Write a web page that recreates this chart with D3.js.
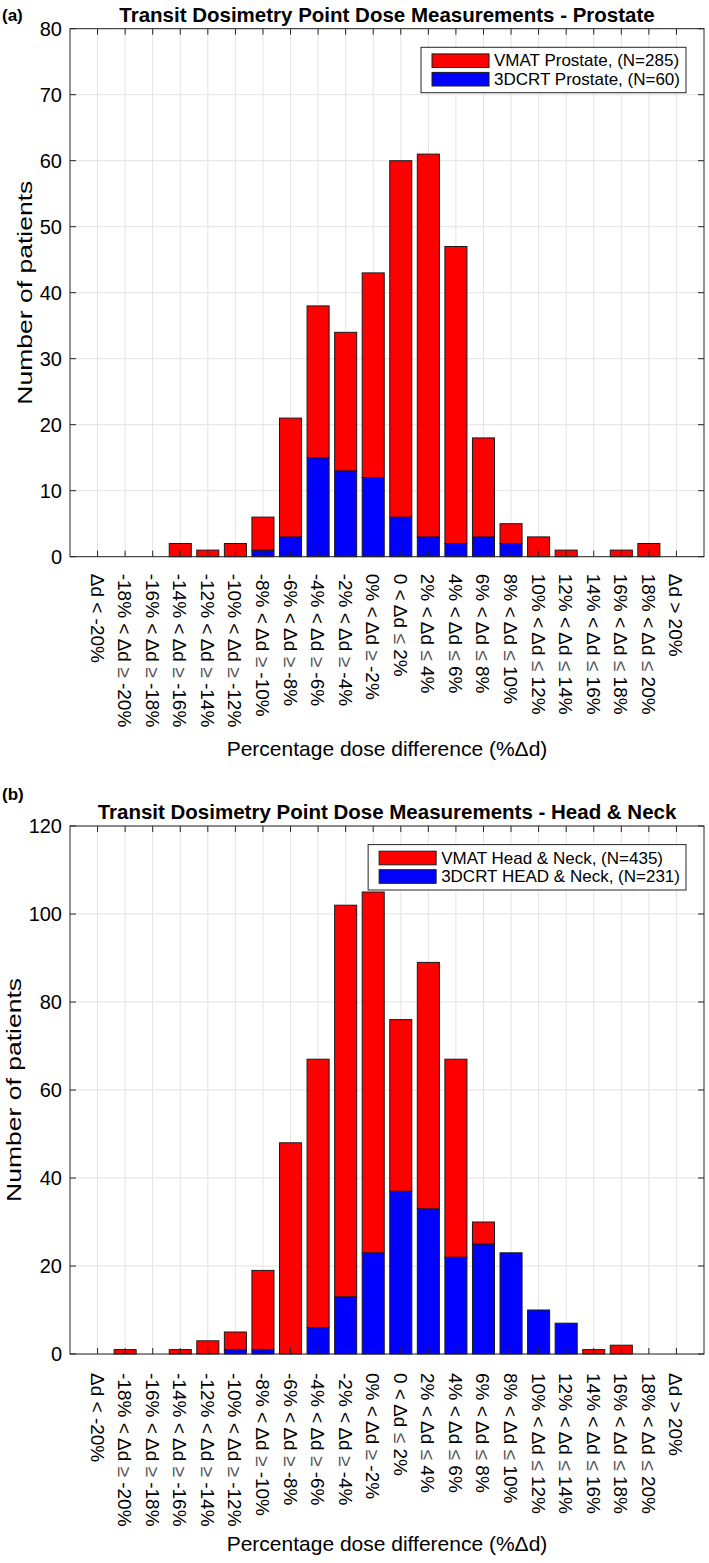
<!DOCTYPE html>
<html>
<head>
<meta charset="utf-8">
<script src="https://cdn.jsdelivr.net/npm/d3@7"></script>
<style>
  html, body { margin: 0; padding: 0; background: #fff; }
  svg { display: block; }
  text { font-family: "Liberation Sans", Arial, Helvetica, sans-serif; fill: #000; }
</style>
</head>
<body>
<svg id="chart" width="709" height="1563"></svg>
<script>
// ---------- data ----------
const categories = [
  "Δd < -20%", "-18% < Δd ≥ -20%", "-16% < Δd ≥ -18%", "-14% < Δd ≥ -16%",
  "-12% < Δd ≥ -14%", "-10% < Δd ≥ -12%", "-8% < Δd ≥ -10%", "-6% < Δd ≥ -8%",
  "-4% < Δd ≥ -6%", "-2% < Δd ≥ -4%", "0% < Δd ≥ -2%", "0 < Δd ≤ 2%",
  "2% < Δd ≤ 4%", "4% < Δd ≤ 6%", "6% < Δd ≤ 8%", "8% < Δd ≤ 10%",
  "10% < Δd ≤ 12%", "12% < Δd ≤ 14%", "14% < Δd ≤ 16%", "16% < Δd ≤ 18%",
  "18% < Δd ≤ 20%", "Δd > 20%"
];
// Prostate (stacked: 3DCRT bottom, VMAT on top)
const prostate3DCRT = [0,0,0,0,0,0,1,3,15,13,12,6,3,2,3,2,0,0,0,0,0,0];
const prostateVMAT  = [0,0,0,2,1,2,5,18,23,21,31,54,58,45,15,3,3,1,0,1,2,0];
// Head & Neck
const hn3DCRT = [0,0,0,0,0,1,1,0,6,13,23,37,33,22,25,23,10,7,0,0,0,0];
const hnVMAT  = [0,1,0,1,3,4,18,48,61,89,82,39,56,45,5,0,0,0,1,2,0,0];

const yTicksA = [0,10,20,30,40,50,60,70,80];
const yTicksB = [0,20,40,60,80,100,120];

const panels = [
  { tag: "(a)", title: "Transit Dosimetry Point Dose Measurements - Prostate",
    vmat: prostateVMAT, crt: prostate3DCRT, ymax: 80, yticks: yTicksA,
    legend: ["VMAT Prostate, (N=285)", "3DCRT Prostate, (N=60)"],
    top: 28.7, bottom: 556.7, ylabX: 25, tagY: 21, xlabOff: 199, tickOff: 17 },
  { tag: "(b)", title: "Transit Dosimetry Point Dose Measurements - Head & Neck",
    vmat: hnVMAT, crt: hn3DCRT, ymax: 120, yticks: yTicksB,
    legend: ["VMAT Head & Neck, (N=435)", "3DCRT HEAD & Neck, (N=231)"],
    top: 826, bottom: 1354, ylabX: 14, tagY: 800, xlabOff: 197, tickOff: 19 }
];

const svg = d3.select("#chart");
const left = 70, right = 704;
const RED = "#ff0000", BLUE = "#0000ff", EDGE = "#1a1a1a";

panels.forEach(p => {
  const g = svg.append("g");
  const x = d3.scaleLinear().domain([0, categories.length + 1]).range([left, right]);
  const y = d3.scaleLinear().domain([0, p.ymax]).range([p.bottom, p.top]);
  const step = x(1) - x(0);
  const bw = step * 0.8;

  // grid
  g.append("g").selectAll("line").data(categories).join("line")
    .attr("x1", (d, i) => x(i + 1)).attr("x2", (d, i) => x(i + 1))
    .attr("y1", p.top).attr("y2", p.bottom)
    .attr("stroke", "#e3e3e3").attr("stroke-width", 1);
  g.append("g").selectAll("line").data(p.yticks).join("line")
    .attr("x1", left).attr("x2", right)
    .attr("y1", d => y(d)).attr("y2", d => y(d))
    .attr("stroke", "#e3e3e3").attr("stroke-width", 1);

  // stacked bars
  const rows = categories.map((c, i) => ({ cat: c, i, crt: p.crt[i], vmat: p.vmat[i] }));
  const stack = d3.stack().keys(["crt", "vmat"])(rows);
  const colors = { crt: BLUE, vmat: RED };
  stack.forEach(layer => {
    g.append("g").selectAll("rect").data(layer.filter(d => d[1] - d[0] > 0)).join("rect")
      .attr("x", d => x(d.data.i + 1) - bw / 2)
      .attr("width", bw)
      .attr("y", d => y(d[1]))
      .attr("height", d => y(d[0]) - y(d[1]))
      .attr("fill", colors[layer.key])
      .attr("stroke", EDGE).attr("stroke-width", 1);
  });

  // frame
  g.append("rect").attr("x", left).attr("y", p.top)
    .attr("width", right - left).attr("height", p.bottom - p.top)
    .attr("fill", "none").attr("stroke", "#262626").attr("stroke-width", 1);

  // ticks (inward, all four sides)
  const tl = 6;
  const tk = g.append("g").attr("stroke", "#262626").attr("stroke-width", 1);
  categories.forEach((c, i) => {
    tk.append("line").attr("x1", x(i + 1)).attr("x2", x(i + 1)).attr("y1", p.bottom).attr("y2", p.bottom - tl);
    tk.append("line").attr("x1", x(i + 1)).attr("x2", x(i + 1)).attr("y1", p.top).attr("y2", p.top + tl);
  });
  p.yticks.forEach(v => {
    tk.append("line").attr("x1", left).attr("x2", left + tl).attr("y1", y(v)).attr("y2", y(v));
    tk.append("line").attr("x1", right).attr("x2", right - tl).attr("y1", y(v)).attr("y2", y(v));
  });

  // y tick labels
  g.append("g").selectAll("text").data(p.yticks).join("text")
    .attr("x", left - 8).attr("y", d => y(d))
    .attr("text-anchor", "end").attr("dominant-baseline", "central")
    .style("font-size", "20px").text(d => d);

  // x tick labels (rotated 90deg, reading top to bottom)
  g.append("g").selectAll("text").data(categories).join("text")
    .attr("transform", (d, i) => `translate(${x(i + 1)},${p.bottom + p.tickOff}) rotate(90)`)
    .attr("text-anchor", "start").attr("dominant-baseline", "central")
    .style("font-size", "19px")
    .each(function (d) {
      const t = d3.select(this);
      d.split(/(≥|≤)/).forEach(part => {
        const s = t.append("tspan").text(part);
        if (part === "≥" || part === "≤") s.style("fill", "#555");
      });
    });

  // axis labels
  g.append("text").attr("x", (left + right) / 2).attr("y", p.bottom + p.xlabOff)
    .attr("text-anchor", "middle").style("font-size", "21px")
    .text("Percentage dose difference (%Δd)");
  g.append("text")
    .attr("transform", `translate(${p.ylabX},${(p.top + p.bottom) / 2}) rotate(-90)`)
    .attr("text-anchor", "middle").attr("dominant-baseline", "central")
    .attr("textLength", 224).attr("lengthAdjust", "spacingAndGlyphs")
    .style("font-size", "20px").text("Number of patients");

  // title
  g.append("text").attr("x", (left + right) / 2).attr("y", p.top - 7)
    .attr("text-anchor", "middle").style("font-size", "20.5px").style("font-weight", "bold")
    .text(p.title);
  g.append("text").attr("x", 2).attr("y", p.tagY)
    .style("font-size", "17px").style("font-weight", "bold").text(p.tag);

  // legend
  const lg = g.append("g");
  const fs = 17, c0 = p.top + 32, dy = 18.5;
  const texts = p.legend.map((t, k) => lg.append("text")
    .attr("y", c0 + k * dy).attr("dominant-baseline", "central")
    .style("font-size", fs + "px").text(t));
  const tw = d3.max(texts, t => t.node().getComputedTextLength());
  const boxR = 686, padR = 6, padL = 11, sw = 57, gap = 5;
  const boxL = boxR - padR - tw - gap - sw - padL;
  texts.forEach(t => t.attr("x", boxL + padL + sw + gap));
  lg.insert("rect", "text").attr("x", boxL).attr("y", p.top + 18.6)
    .attr("width", boxR - boxL).attr("height", 45.4)
    .attr("fill", "#fff").attr("stroke", "#262626").attr("stroke-width", 1);
  [RED, BLUE].forEach((c, k) => {
    lg.append("rect").attr("x", boxL + padL).attr("y", c0 + k * dy - 6.8)
      .attr("width", sw).attr("height", 13.6)
      .attr("fill", c).attr("stroke", EDGE).attr("stroke-width", 1);
  });
});
</script>
</body>
</html>
